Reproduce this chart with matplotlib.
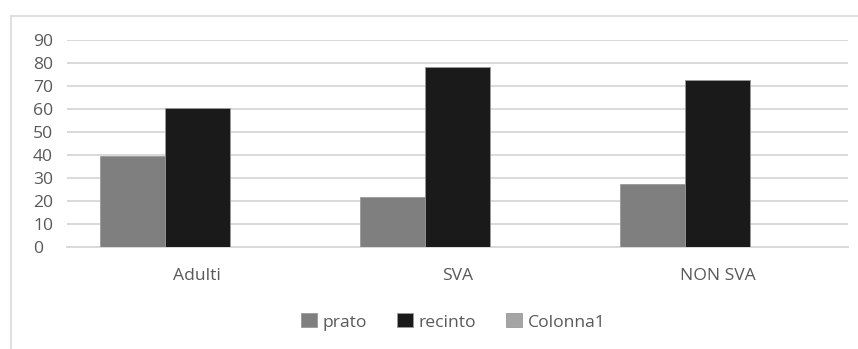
import numpy as np
import matplotlib.pyplot as plt
from matplotlib.lines import Line2D

categories = ["Adulti", "SVA", "NON SVA"]
series_names = ["prato", "recinto", "Colonna1"]
prato = [39.5, 21.7, 27.6]
recinto = [60.5, 78.3, 72.4]
colonna1 = [0, 0, 0]
colors = ["#7f7f7f", "#1a1a1a", "#a5a5a5"]

plt.rcParams['font.family'] = ['Open Sans', 'DejaVu Sans']
text_col = "#595959"
grid_col = "#d9d9d9"
fs = 12.6

fig = plt.figure(figsize=(8.58, 3.49), dpi=100)
ax = fig.add_axes([67 / 858, 1 - 247 / 349, (848 - 67) / 858, (247 - 40) / 349])

x = np.arange(len(categories))
w = 0.25  # three bars per group, gap equal to one bar
for i, (vals, name) in enumerate(zip([prato, recinto, colonna1], series_names)):
    ax.bar(x + (i - 1) * w, vals, width=w, color=colors[i], label=name,
           edgecolor="#9a9a9a", linewidth=0.6, zorder=3)

ax.set_xlim(-0.5, 2.5)
ax.set_ylim(0, 90)
ax.set_yticks(range(0, 91, 10))
ax.yaxis.grid(True, color=grid_col, linewidth=1.4, zorder=0)
ax.set_axisbelow(True)
for s in ["top", "right", "left"]:
    ax.spines[s].set_visible(False)
ax.spines["bottom"].set_color(grid_col)
ax.spines["bottom"].set_linewidth(1.4)
ax.set_xticks(x)
ax.set_xticklabels(categories)
ax.tick_params(axis="both", length=0, colors=text_col, labelsize=fs)
ax.tick_params(axis="x", pad=15)
# left-aligned value labels, starting 34 px left of the plot
ax.tick_params(axis="y", pad=24.5)
for lab in ax.get_yticklabels():
    lab.set_horizontalalignment("left")

# outer chart frame (top and left edges)
fig.add_artist(Line2D([11 / 858, 11 / 858], [0, 1 - 16 / 349], color=grid_col, lw=1.2))
fig.add_artist(Line2D([11 / 858, 1], [1 - 16 / 349, 1 - 16 / 349], color=grid_col, lw=1.2))

fig.legend(loc="center", bbox_to_anchor=(453 / 858, 1 - 322 / 349), ncol=3,
           frameon=False, fontsize=fs, labelcolor=text_col,
           handlelength=0.95, handleheight=0.85, handletextpad=0.3, columnspacing=1.7)

fig.savefig("out.png", dpi=100)
